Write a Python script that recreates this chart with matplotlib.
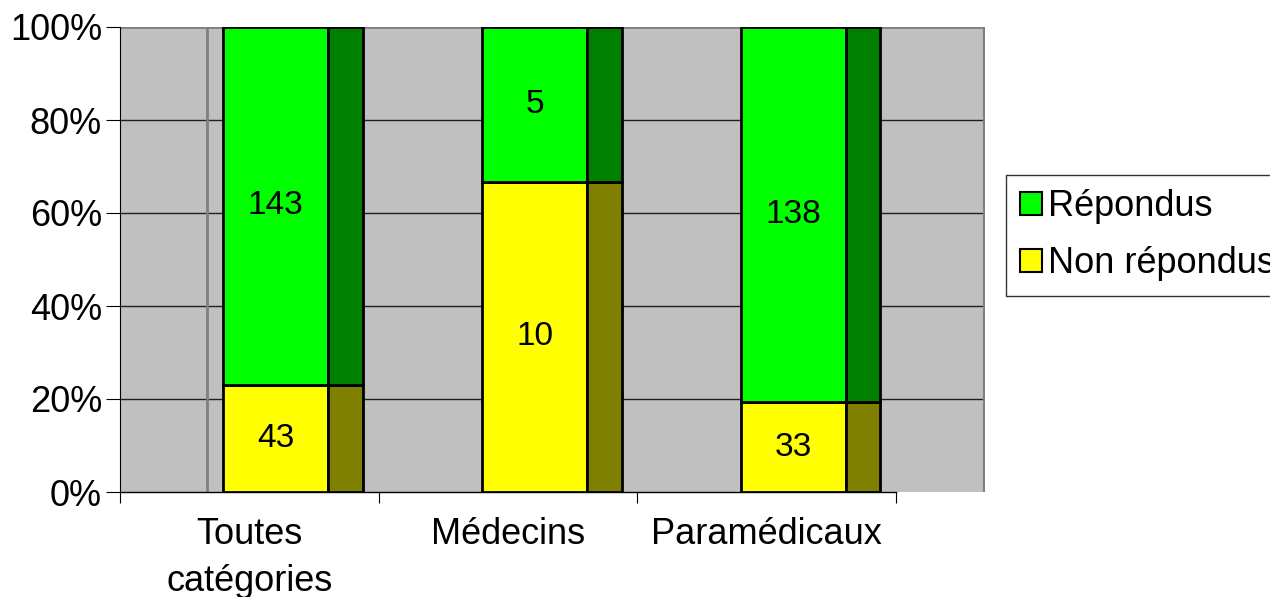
import matplotlib.pyplot as plt

plt.rcParams['font.family'] = ['Liberation Sans', 'DejaVu Sans']

# data
categories = ['Toutes\ncatégories', 'Médecins', 'Paramédicaux']
repondus = [143, 5, 138]
non_repondus = [43, 10, 33]

tot = [a + b for a, b in zip(repondus, non_repondus)]
pct_non = [100.0 * b / t for b, t in zip(non_repondus, tot)]
pct_rep = [100.0 * a / t for a, t in zip(repondus, tot)]

fig = plt.figure(figsize=(12.7, 5.97), dpi=100)
ax = fig.add_axes([120/1270, 105/597, 865/1270, 465/597])
ax.set_facecolor('#C0C0C0')

xs = [0, 1, 2]
front_l = [x + 0.40 for x in xs]
side_l = [x + 0.805 for x in xs]

# front faces
ax.bar(front_l, pct_non, width=0.405, align='edge', color='#FFFF00', edgecolor='black', linewidth=2, zorder=3)
ax.bar(front_l, pct_rep, bottom=pct_non, width=0.405, align='edge', color='#00FF00', edgecolor='black', linewidth=2, zorder=3)
# side faces
ax.bar(side_l, pct_non, width=0.135, align='edge', color='#808000', edgecolor='black', linewidth=2, zorder=3)
ax.bar(side_l, pct_rep, bottom=pct_non, width=0.135, align='edge', color='#008000', edgecolor='black', linewidth=2, zorder=3)

for i in range(3):
    cx = front_l[i] + 0.2025
    ax.text(cx, pct_non[i] / 2, str(non_repondus[i]), ha='center', va='center', fontsize=24, zorder=4)
    ax.text(cx, pct_non[i] + pct_rep[i] / 2, str(repondus[i]), ha='center', va='center', fontsize=24, zorder=4)

xmax = 865 / 258.67
ax.set_xlim(0, xmax)
ax.set_ylim(0, 100)

# gridlines
for y in range(20, 100, 20):
    ax.axhline(y, color='#202020', linewidth=1, zorder=1)
ax.axhline(100, color='#808080', linewidth=2, zorder=1)
ax.axvline(87 / 258.67, color='#808080', linewidth=2, zorder=1)
ax.axvline(xmax, color='#808080', linewidth=3, zorder=1)

for s in ['top', 'right']:
    ax.spines[s].set_visible(False)
ax.spines['left'].set_color('black')
ax.spines['bottom'].set_bounds(0, 3)
ax.spines['bottom'].set_linewidth(1)

ax.set_yticks(range(0, 101, 20))
ax.set_yticklabels([f'{v}%' for v in range(0, 101, 20)], fontsize=26)
ax.set_xticks([0, 1, 2, 3])
ax.set_xticklabels([])
ax.set_xticks([0.5, 1.5, 2.5], minor=True)
ax.set_xticklabels(categories, minor=True, fontsize=26, linespacing=1.45)
ax.tick_params(axis='x', which='minor', length=0, pad=18)
ax.tick_params(axis='x', which='major', length=8, direction='out')
ax.tick_params(axis='y', length=10, direction='out', pad=3)

from matplotlib.patches import Patch
handles = [Patch(facecolor='#00FF00', edgecolor='black', linewidth=1.5),
           Patch(facecolor='#FFFF00', edgecolor='black', linewidth=1.5)]
leg = fig.legend(handles, ['Répondus', 'Non répondus'], loc='upper left',
                 bbox_to_anchor=(1006/1270, 1 - 175/597), fontsize=26,
                 frameon=True, fancybox=False, handlelength=0.6, handleheight=0.6,
                 handletextpad=0.15, borderpad=0.4, labelspacing=0.6, borderaxespad=0)
leg.get_frame().set_edgecolor('black')
leg.get_frame().set_linewidth(1)

fig.savefig('out.png', dpi=100)
